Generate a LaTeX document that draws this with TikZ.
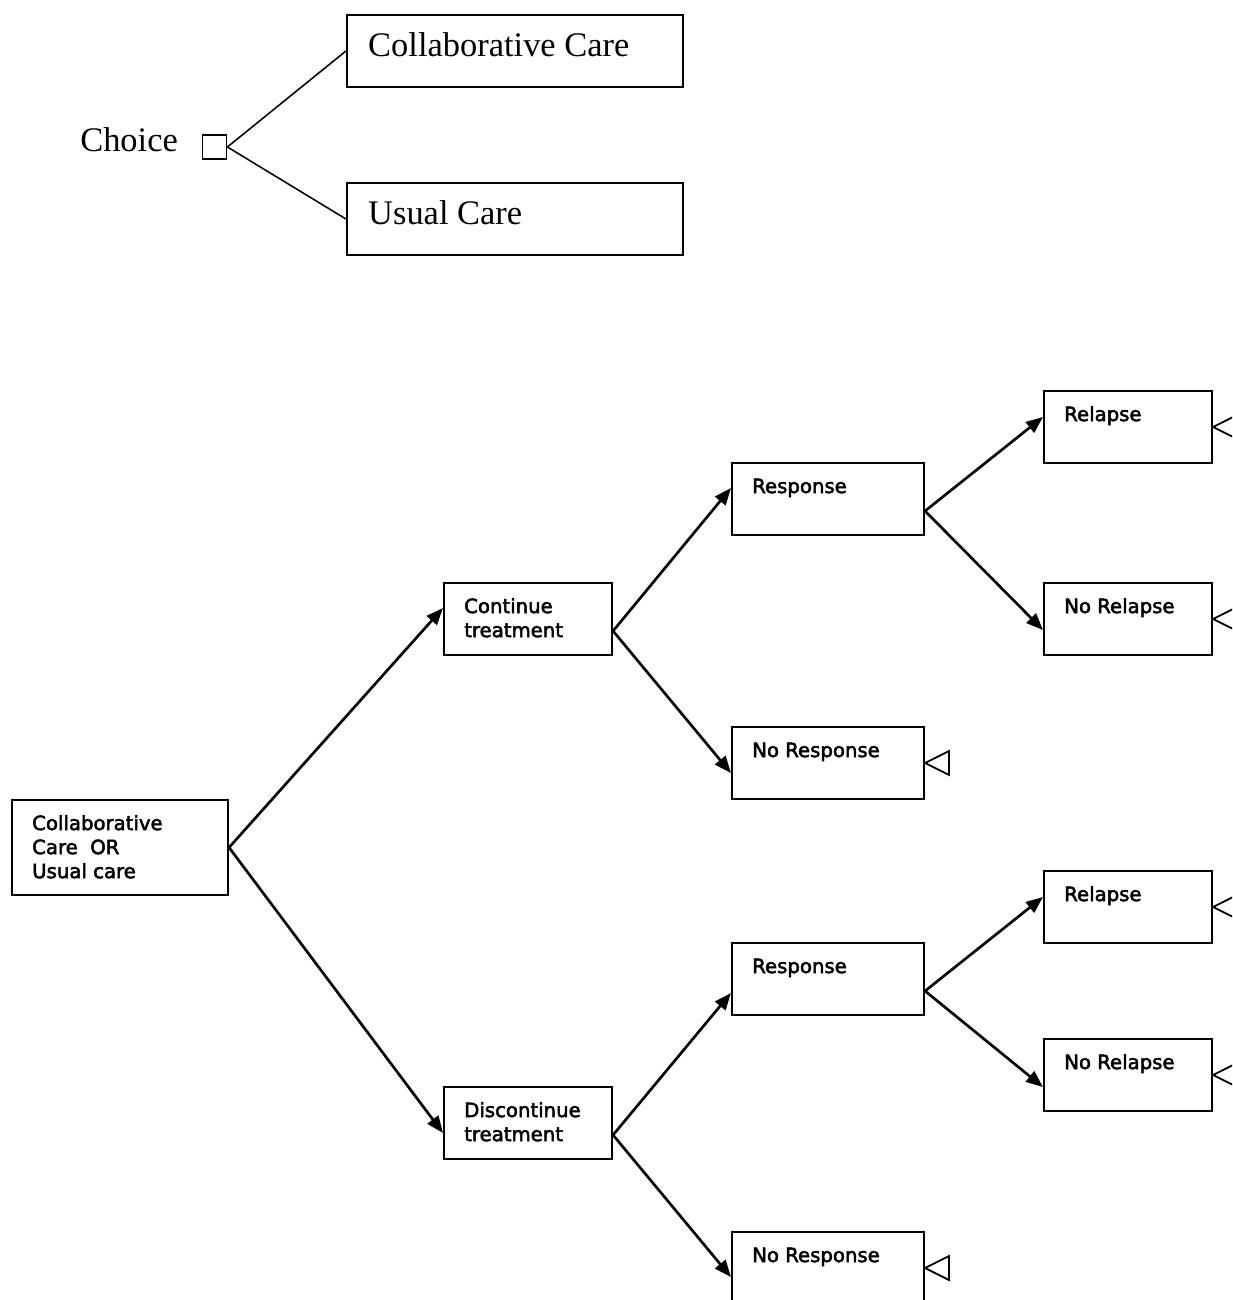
\documentclass[tikz,border=0pt]{standalone}
\usepackage{fontspec}
\setmainfont{Liberation Serif}
\newfontfamily\treefont[FakeBold=2.5]{DejaVu Sans}
\usetikzlibrary{calc,arrows.meta}
\def\pxu{0.025cm}
\def\endmark(#1){\draw[endtri] (#1.east) -- ++(24,-12) -- ++(0,24) -- cycle;}
\tikzset{
	box/.style={draw, line width=1.5pt, inner sep=0pt, minimum height=72*\pxu},
	bigtxt/.style={anchor=north west, inner sep=0pt, align=left, font=\fontsize{24.5}{29.4}\selectfont},
	smalltxt/.style={anchor=north west, inner sep=0pt, align=left, font=\treefont\fontsize{14}{17.1}\selectfont},
	arr/.style={line width=1.9pt, -{Triangle[length=12pt, width=9.5pt]}},
	thinline/.style={line width=1.1pt},
	endtri/.style={line width=1.3pt}
}

\begin{document}
\begin{tikzpicture}[x=\pxu, y=-\pxu]
			%%%%% START %%%%%
			\clip (0, 0) rectangle (1232, 1300);
			
			% choice
			\node[anchor=base west, inner sep=0pt, font=\fontsize{24.5}{29.4}\selectfont] (choice) at (80, 152) {Choice};
			\node[box, line width=1.3pt, minimum width=24*\pxu, minimum height=24*\pxu] (choicebox) at (214.5, 147) {};
			\node[box, minimum width=336*\pxu] (cc) at (515, 51) {};
			\node[box, minimum width=336*\pxu] (uc) at (515, 219) {};
			\node[bigtxt] (cctxt) at ($(cc.north west)+(22, 13)$) {\strut Collaborative Care};
			\node[bigtxt] (uctxt) at ($(uc.north west)+(22, 13)$) {\strut Usual Care};
			\draw[thinline] (choicebox.east) -- (cc.west);
			\draw[thinline] (choicebox.east) -- (uc.west);
			
			% tree boxes
			\node[box, minimum width=216*\pxu, minimum height=95*\pxu] (root) at (120, 847.5) {};
			\node[box, minimum width=168*\pxu] (cont) at (528, 619) {};
			\node[box, minimum width=168*\pxu] (disc) at (528, 1123) {};
			\node[box, minimum width=192*\pxu] (respA) at (828, 499) {};
			\node[box, minimum width=192*\pxu] (noresA) at (828, 763) {};
			\node[box, minimum width=192*\pxu] (respB) at (828, 979) {};
			\node[box, minimum width=192*\pxu] (noresB) at (828, 1268) {};
			\node[box, minimum width=168*\pxu] (relA) at (1128, 427) {};
			\node[box, minimum width=168*\pxu] (norelA) at (1128, 619) {};
			\node[box, minimum width=168*\pxu] (relB) at (1128, 907) {};
			\node[box, minimum width=168*\pxu] (norelB) at (1128, 1075) {};
			
			\node[smalltxt] (roottxt) at ($(root.north west)+(21, 14)$) {\strut Collaborative\\Care~~OR\\Usual care};
			\node[smalltxt] (conttxt) at ($(cont.north west)+(21, 14)$) {\strut Continue\\treatment};
			\node[smalltxt] (disctxt) at ($(disc.north west)+(21, 14)$) {\strut Discontinue\\treatment};
			\node[smalltxt] (respAtxt) at ($(respA.north west)+(21, 14)$) {\strut Response};
			\node[smalltxt] (noresAtxt) at ($(noresA.north west)+(21, 14)$) {\strut No Response};
			\node[smalltxt] (respBtxt) at ($(respB.north west)+(21, 14)$) {\strut Response};
			\node[smalltxt] (noresBtxt) at ($(noresB.north west)+(21, 14)$) {\strut No Response};
			\node[smalltxt] (relAtxt) at ($(relA.north west)+(21, 14)$) {\strut Relapse};
			\node[smalltxt] (norelAtxt) at ($(norelA.north west)+(21, 14)$) {\strut No Relapse};
			\node[smalltxt] (relBtxt) at ($(relB.north west)+(21, 14)$) {\strut Relapse};
			\node[smalltxt] (norelBtxt) at ($(norelB.north west)+(21, 14)$) {\strut No Relapse};
			
			% branches
			\draw[arr] (root.east) -- ($(cont.west)+(0, -11)$);
			\draw[arr] (root.east) -- ($(disc.west)+(0, 10)$);
			\draw[arr] ($(cont.east)+(0, 12)$) -- ($(respA.west)+(0, -11)$);
			\draw[arr] ($(cont.east)+(0, 12)$) -- ($(noresA.west)+(0, 10)$);
			\draw[arr] ($(disc.east)+(0, 12)$) -- ($(respB.west)+(0, 14)$);
			\draw[arr] ($(disc.east)+(0, 12)$) -- ($(noresB.west)+(0, 9)$);
			\draw[arr] ($(respA.east)+(0, 12)$) -- ($(relA.west)+(0, -10)$);
			\draw[arr] ($(respA.east)+(0, 12)$) -- ($(norelA.west)+(0, 11)$);
			\draw[arr] ($(respB.east)+(0, 12)$) -- ($(relB.west)+(0, -10)$);
			\draw[arr] ($(respB.east)+(0, 12)$) -- ($(norelB.west)+(0, 12)$);
			
			% end markers
			\endmark(noresA)
			\endmark(noresB)
			\endmark(relA)
			\endmark(norelA)
			\endmark(relB)
			\endmark(norelB)
			%%%%% END %%%%%
		\end{tikzpicture}
\end{document}
